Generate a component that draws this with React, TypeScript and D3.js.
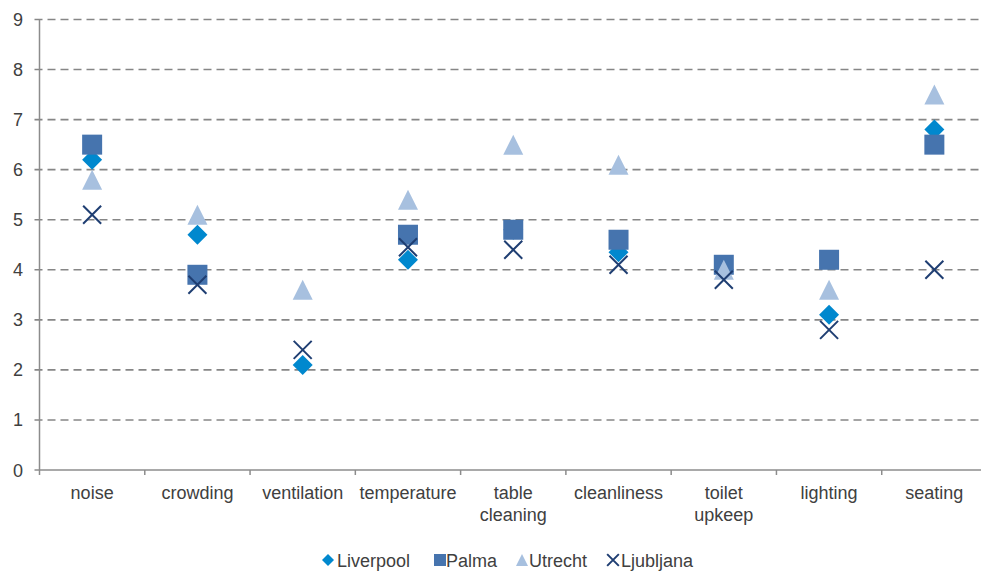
import React from "react";
import * as d3 from "d3";

const categories = ["noise", "crowding", "ventilation", "temperature", "table cleaning", "cleanliness", "toilet upkeep", "lighting", "seating"];
const liverpool: (number | null)[] = [6.2, 4.7, 2.1, 4.2, 4.8, 4.35, 4.0, 3.1, 6.8];
const palma: (number | null)[] = [6.5, 3.9, null, 4.7, 4.8, 4.6, 4.1, 4.2, 6.5];
const utrecht: (number | null)[] = [5.8, 5.1, 3.6, 5.4, 6.5, 6.1, 4.0, 3.6, 7.5];
const ljubljana: (number | null)[] = [5.1, 3.7, 2.4, 4.45, 4.4, 4.1, 3.8, 2.8, 4.0];
const yTicks = [0, 1, 2, 3, 4, 5, 6, 7, 8, 9];
const seriesNames = ["Liverpool", "Palma", "Utrecht", "Ljubljana"];
const seriesColors = ["#0088CE", "#4674AE", "#A7C0DF", "#1F3E72"];
const seriesShapes = ["diamond", "square", "triangle", "x"];
const seriesData = [liverpool, palma, utrecht, ljubljana];

const W = 981, H = 575;
const left = 39.5, right = 987, top = 19.5, bottom = 470;
const font = "'Liberation Sans', Arial, sans-serif";
const fs = 18;

function Marker({ shape, x, y, color, s }: { shape: string; x: number; y: number; color: string; s: number }) {
  const h = s / 2;
  if (shape === "diamond") {
    return <path d={`M${x},${y - h}L${x + h},${y}L${x},${y + h}L${x - h},${y}Z`} fill={color} />;
  }
  if (shape === "square") {
    return <rect x={x - h} y={y - h} width={s} height={s} fill={color} />;
  }
  if (shape === "triangle") {
    return <path d={`M${x},${y - h}L${x + h},${y + h}L${x - h},${y + h}Z`} fill={color} />;
  }
  const k = h * 0.9;
  return (
    <path d={`M${x - k},${y - k}L${x + k},${y + k}M${x - k},${y + k}L${x + k},${y - k}`} stroke={color} strokeWidth={2} fill="none" />
  );
}

export default function App() {
  const x = d3.scaleBand<string>().domain(categories).range([left, right]);
  const y = d3.scaleLinear().domain([0, 9]).range([bottom, top]);
  const bw = x.bandwidth();

  return (
    <svg width={W} height={H} style={{ position: "absolute", left: 0, top: 0, background: "#fff" }}>
      {yTicks.map((t) => (
        <g key={t}>
          {t > 0 && (
            <line x1={left - 5} x2={right} y1={y(t)} y2={y(t)} stroke="#868686" strokeWidth={1.6} strokeDasharray="8,5" />
          )}
          <text x={23} y={y(t) + 6.5} textAnchor="end" fontFamily={font} fontSize={fs} fill="#404040">
            {t}
          </text>
        </g>
      ))}
      <line x1={left} x2={left} y1={top} y2={bottom} stroke="#8c8c8c" strokeWidth={1.5} />
      <line x1={left - 5} x2={right} y1={bottom} y2={bottom} stroke="#8c8c8c" strokeWidth={1.5} />
      {categories.map((c, i) => (
        <line key={"t" + i} x1={(x(c) as number)} x2={(x(c) as number)} y1={bottom} y2={bottom + 5} stroke="#8c8c8c" strokeWidth={1.5} />
      ))}
      {categories.map((c) => {
        const cx = (x(c) as number) + bw / 2;
        const lines = c === "table cleaning" ? ["table", "cleaning"] : c === "toilet upkeep" ? ["toilet", "upkeep"] : [c];
        return (
          <text key={c} x={cx} y={499} textAnchor="middle" fontFamily={font} fontSize={fs} fill="#404040">
            {lines.map((l, j) => (
              <tspan key={j} x={cx} dy={j === 0 ? 0 : 22}>
                {l}
              </tspan>
            ))}
          </text>
        );
      })}
      {seriesData.map((arr, si) =>
        arr.map((v, i) =>
          v == null ? null : (
            <Marker
              key={si + "-" + i}
              shape={seriesShapes[si]}
              x={(x(categories[i]) as number) + bw / 2}
              y={y(v)}
              color={seriesColors[si]}
              s={20}
            />
          )
        )
      )}
      {(() => {
        const items = [
          { mx: 328, tx: 337 },
          { mx: 440, tx: 446 },
          { mx: 522, tx: 529 },
          { mx: 613, tx: 621 },
        ];
        return items.map((it, i) => (
          <g key={"lg" + i}>
            <Marker shape={seriesShapes[i]} x={it.mx} y={560} color={seriesColors[i]} s={i === 3 ? 13 : 12} />
            <text x={it.tx} y={566.5} fontFamily={font} fontSize={fs} fill="#404040">
              {seriesNames[i]}
            </text>
          </g>
        ));
      })()}
    </svg>
  );
}
